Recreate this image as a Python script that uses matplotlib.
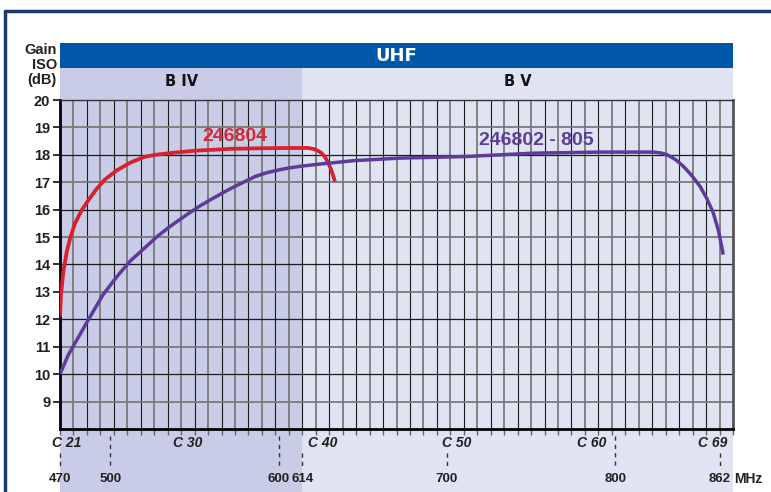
import matplotlib.pyplot as plt
import matplotlib.transforms as mtransforms
from matplotlib.patches import Rectangle
from matplotlib.lines import Line2D
import numpy as np

# gain curves (MHz, dB)
red_mhz = [470, 470.6, 472, 474, 476, 478.9, 482.9, 486.8, 491.8, 496.7, 503.7, 511.6,
           519.9, 526.5, 536.4, 550.2, 572, 590, 606, 617.5, 621, 623.5, 625.5, 627.5,
           629.5, 631.5, 633.4]
red_db = [12.1, 12.9, 13.73, 14.46, 14.95, 15.5, 15.98, 16.34, 16.76, 17.1, 17.43, 17.71,
          17.92, 18.0, 18.07, 18.15, 18.22, 18.24, 18.25, 18.25, 18.21, 18.14, 18.06, 17.92,
          17.7, 17.4, 17.03]

purple_mhz = [470, 474.9, 478.9, 486.8, 495.4, 503.7, 511.6, 519.9, 527.9, 535.9, 544.2,
              552.2, 560.5, 568.4, 574, 580, 586, 593, 600, 606, 612.6, 625.5, 645, 672,
              712, 751, 791, 822.6, 827, 831, 836, 840.5, 845, 850.4, 854.5, 858.3, 861.5,
              864.2]
purple_db = [10.0, 10.7, 11.13, 11.98, 12.88, 13.55, 14.12, 14.58, 15.03, 15.41, 15.77,
             16.1, 16.4, 16.67, 16.85, 17.03, 17.21, 17.35, 17.45, 17.52, 17.58, 17.67,
             17.79, 17.88, 17.94, 18.06, 18.1, 18.1, 18.07, 18.0, 17.82, 17.58, 17.28,
             16.85, 16.4, 15.88, 15.2, 14.36]

bands = ['B IV', 'B V']
band_edges = [(470, 614), (614, 870)]
band_colors = ['#c8cce6', '#dfe3f2']

channels = ['C 21', 'C 30', 'C 40', 'C 50', 'C 60', 'C 69']
channel_mhz = [474, 546, 626, 706, 786, 858]
freq_ticks = [470, 500, 600, 614, 700, 800, 862]
gain_ticks = list(range(9, 21))

narrow = ['Liberation Sans Narrow', 'Liberation Sans', 'DejaVu Sans']
txt = '#231f20'

fig = plt.figure(figsize=(7.71, 4.92), dpi=100)
ax = fig.add_axes([60 / 771, 1 - 429 / 492, 673 / 771, 329 / 492])
ax.set_facecolor('none')
ax.set_xlim(470, 870)
ax.set_ylim(8, 20)
trans = mtransforms.blended_transform_factory(ax.transData, ax.transAxes)

# band shading, runs from the header row down to the bottom of the figure
for name, (a, b), c in zip(bands, band_edges, band_colors):
    ax.add_patch(Rectangle((a, -0.2), b - a, 1.297, transform=trans,
                           facecolor=c, edgecolor='none', clip_on=False, zorder=0))
    ax.text((a + b) / 2, 1.055, name, transform=trans, ha='center', va='center',
            fontsize=10.5, fontweight='bold', color='#111', family='DejaVu Sans')

ax.add_patch(Rectangle((470, 1.097), 400, 0.076, transform=trans,
                       facecolor='#0057a6', edgecolor='none', clip_on=False, zorder=0))
ax.text(670, 1.134, 'UHF', transform=trans, ha='center', va='center',
        fontsize=13, fontweight='bold', color='white', family='DejaVu Sans')

# grid: alternate black / grey lines
x_grid = np.arange(470, 871, 8)
for i, xv in enumerate(x_grid[1:-1]):
    dark = i % 2 == 1
    ax.axvline(xv, color='#1a1a1a' if dark else '#7a7a7a', lw=0.8 if dark else 1.3, zorder=1)
for yv in range(9, 20):
    dark = yv % 2 == 0
    ax.axhline(yv, color='#1a1a1a' if dark else '#7a7a7a', lw=0.9 if dark else 1.3, zorder=1)

ax.plot(red_mhz, red_db, color='#d7212e', lw=2.7, solid_capstyle='butt',
        solid_joinstyle='round', zorder=3)
ax.plot(purple_mhz, purple_db, color='#5e3a9a', lw=2.5, solid_capstyle='butt',
        solid_joinstyle='round', zorder=3)
ax.text(574, 18.67, '246804', ha='center', va='center', fontsize=14, fontweight='bold',
        color='#d42a33', family=narrow, zorder=4)
ax.text(753, 18.51, '246802 - 805', ha='center', va='center', fontsize=14, fontweight='bold',
        color='#5e3c99', family=narrow, zorder=4)

ax.set_xticks(x_grid)
ax.set_xticklabels([])
ax.set_yticks(gain_ticks)
ax.set_yticklabels([str(v) for v in gain_ticks], fontsize=10.5, fontweight='bold',
                   color=txt, family=narrow)
ax.tick_params(axis='x', direction='out', length=4, width=1, color='#666')
ax.tick_params(axis='y', direction='out', length=5, width=1.2, color='#111', pad=2)

for s in ['left', 'bottom']:
    ax.spines[s].set_linewidth(2)
    ax.spines[s].set_color('black')
ax.spines['top'].set_linewidth(1)
ax.spines['top'].set_color('#333')
ax.spines['right'].set_linewidth(2)
ax.spines['right'].set_color('#555')

# axis title stacked above the gain scale
for yy, s in zip([1.152, 1.106, 1.061], ['Gain', 'ISO', '(dB)']):
    ax.text(-0.0045, yy, s, transform=ax.transAxes, ha='right', va='center',
            fontsize=10.5, fontweight='bold', color=txt, family=narrow)

# channel and frequency labels under the chart
for name, f in zip(channels, channel_mhz):
    ax.text(f, -0.043, name, transform=trans, ha='center', va='center', fontsize=10,
            fontweight='bold', style='italic', color=txt, family=narrow)
for f in freq_ticks:
    near = min(abs(f - c) for c in channel_mhz) < 13
    top = -0.072 if near else -0.022
    ax.plot([f, f], [top, -0.122], transform=trans, color='#333', lw=1,
            ls=(0, (3, 3)), clip_on=False, zorder=2)
    ax.text(f, -0.152, str(f), transform=trans, ha='center', va='center', fontsize=9.5,
            fontweight='bold', color=txt, family=narrow)
ax.text(1.022, -0.152, 'MHz', transform=ax.transAxes, ha='center', va='center',
        fontsize=10, fontweight='bold', color=txt, family=narrow)

# outer frame (top and left edge)
fig.add_artist(Line2D([0.0065, 0.0065, 1.0], [0.0, 0.9776, 0.9776],
                      transform=fig.transFigure, color='#1b3a6b', lw=2.5))

fig.savefig('out.png', dpi=100)
